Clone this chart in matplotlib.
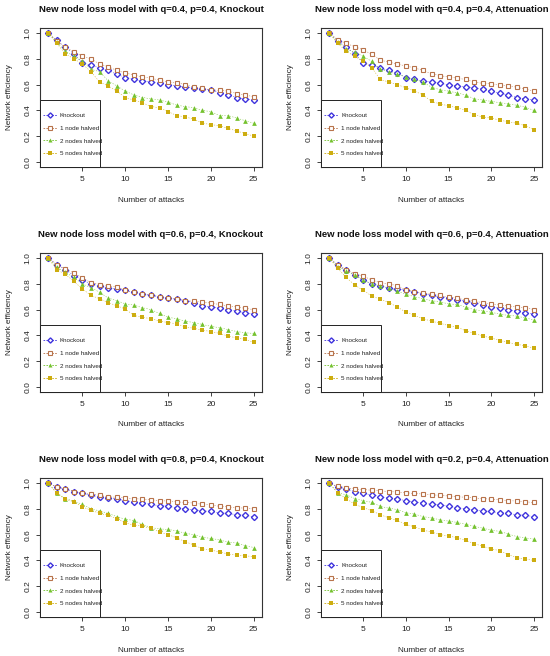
import matplotlib
matplotlib.use("Agg")
import matplotlib.pyplot as plt
from matplotlib.patches import Rectangle
from matplotlib.lines import Line2D

plt.rcParams['font.family'] = ['Liberation Sans', 'DejaVu Sans']

attacks = list(range(1, 26))
series_names = ["Knockout", "1 node halved", "2 nodes halved", "5 nodes halved"]

# Panel 1: q=0.4, p=0.4, Knockout
p1_knockout = [1.0, 0.943, 0.89, 0.84, 0.77, 0.75, 0.73, 0.71, 0.68, 0.655, 0.64, 0.63, 0.62,
               0.61, 0.60, 0.59, 0.58, 0.575, 0.565, 0.56, 0.535, 0.52, 0.50, 0.49, 0.48]
p1_one = [1.0, 0.94, 0.89, 0.855, 0.82, 0.80, 0.76, 0.74, 0.71, 0.69, 0.675, 0.66, 0.65,
          0.635, 0.62, 0.615, 0.60, 0.58, 0.57, 0.56, 0.555, 0.55, 0.53, 0.52, 0.505]
p1_two = [1.0, 0.93, 0.86, 0.82, 0.78, 0.72, 0.70, 0.63, 0.59, 0.55, 0.52, 0.50, 0.49,
          0.48, 0.465, 0.44, 0.43, 0.42, 0.40, 0.39, 0.36, 0.36, 0.34, 0.32, 0.30]
p1_five = [1.0, 0.92, 0.84, 0.80, 0.76, 0.70, 0.62, 0.59, 0.55, 0.50, 0.48, 0.46, 0.43,
           0.42, 0.39, 0.36, 0.35, 0.33, 0.30, 0.29, 0.28, 0.26, 0.24, 0.22, 0.20]

# Panel 2: q=0.4, p=0.4, Attenuation
p2_knockout = [1.0, 0.94, 0.89, 0.84, 0.77, 0.75, 0.73, 0.71, 0.69, 0.655, 0.64, 0.63, 0.62,
               0.61, 0.60, 0.59, 0.585, 0.575, 0.565, 0.55, 0.535, 0.52, 0.50, 0.49, 0.48]
p2_one = [1.0, 0.95, 0.92, 0.895, 0.87, 0.835, 0.79, 0.775, 0.76, 0.745, 0.73, 0.71, 0.685,
          0.67, 0.66, 0.65, 0.64, 0.62, 0.61, 0.605, 0.595, 0.59, 0.58, 0.565, 0.55]
p2_two = [1.0, 0.93, 0.88, 0.85, 0.82, 0.78, 0.72, 0.70, 0.68, 0.66, 0.64, 0.62, 0.58,
          0.56, 0.55, 0.535, 0.52, 0.49, 0.48, 0.47, 0.46, 0.45, 0.44, 0.425, 0.40]
p2_five = [1.0, 0.92, 0.86, 0.82, 0.78, 0.73, 0.64, 0.62, 0.60, 0.575, 0.55, 0.52, 0.47,
           0.45, 0.435, 0.42, 0.40, 0.365, 0.35, 0.34, 0.325, 0.31, 0.30, 0.28, 0.25]

# Panel 3: q=0.6, p=0.4, Knockout
p3_knockout = [1.0, 0.95, 0.91, 0.865, 0.83, 0.80, 0.785, 0.77, 0.76, 0.75, 0.735, 0.72, 0.71,
               0.70, 0.69, 0.68, 0.67, 0.655, 0.63, 0.62, 0.61, 0.60, 0.59, 0.575, 0.565]
p3_one = [1.0, 0.95, 0.915, 0.885, 0.845, 0.81, 0.795, 0.785, 0.775, 0.75, 0.735, 0.725, 0.715,
          0.70, 0.69, 0.685, 0.67, 0.665, 0.66, 0.65, 0.64, 0.63, 0.62, 0.61, 0.60]
p3_two = [1.0, 0.93, 0.89, 0.85, 0.80, 0.77, 0.735, 0.69, 0.67, 0.645, 0.635, 0.615, 0.60,
          0.57, 0.54, 0.53, 0.51, 0.50, 0.485, 0.47, 0.46, 0.445, 0.43, 0.42, 0.415]
p3_five = [1.0, 0.91, 0.875, 0.82, 0.76, 0.71, 0.685, 0.655, 0.63, 0.605, 0.555, 0.54, 0.53,
           0.51, 0.50, 0.49, 0.465, 0.455, 0.44, 0.43, 0.415, 0.395, 0.38, 0.37, 0.345]

# Panel 4: q=0.6, p=0.4, Attenuation
p4_knockout = [1.0, 0.945, 0.905, 0.87, 0.83, 0.80, 0.785, 0.77, 0.76, 0.75, 0.735, 0.725, 0.71,
               0.70, 0.69, 0.675, 0.665, 0.655, 0.635, 0.62, 0.61, 0.60, 0.59, 0.575, 0.565]
p4_one = [1.0, 0.95, 0.91, 0.88, 0.86, 0.83, 0.81, 0.80, 0.785, 0.755, 0.74, 0.73, 0.72,
          0.71, 0.695, 0.69, 0.675, 0.665, 0.655, 0.645, 0.635, 0.63, 0.62, 0.615, 0.60]
p4_two = [1.0, 0.935, 0.90, 0.87, 0.83, 0.80, 0.785, 0.765, 0.745, 0.72, 0.70, 0.685, 0.67,
          0.66, 0.645, 0.64, 0.62, 0.60, 0.59, 0.58, 0.565, 0.555, 0.55, 0.535, 0.52]
p4_five = [1.0, 0.92, 0.85, 0.79, 0.75, 0.705, 0.68, 0.655, 0.62, 0.58, 0.555, 0.53, 0.51,
           0.495, 0.475, 0.465, 0.435, 0.415, 0.395, 0.38, 0.36, 0.345, 0.33, 0.32, 0.30]

# Panel 5: q=0.8, p=0.4, Knockout
p5_knockout = [1.0, 0.97, 0.955, 0.935, 0.92, 0.905, 0.895, 0.885, 0.875, 0.865, 0.855, 0.845, 0.835,
               0.825, 0.82, 0.81, 0.80, 0.795, 0.785, 0.78, 0.77, 0.765, 0.755, 0.75, 0.74]
p5_one = [1.0, 0.97, 0.955, 0.935, 0.925, 0.915, 0.905, 0.895, 0.89, 0.885, 0.88, 0.875, 0.87,
          0.865, 0.86, 0.855, 0.85, 0.845, 0.835, 0.83, 0.82, 0.815, 0.81, 0.805, 0.80]
p5_two = [1.0, 0.925, 0.88, 0.86, 0.835, 0.80, 0.785, 0.765, 0.74, 0.72, 0.71, 0.68, 0.655,
          0.645, 0.64, 0.63, 0.61, 0.60, 0.58, 0.57, 0.56, 0.54, 0.535, 0.515, 0.50]
p5_five = [1.0, 0.92, 0.875, 0.855, 0.815, 0.79, 0.765, 0.75, 0.725, 0.69, 0.675, 0.665, 0.65,
           0.62, 0.60, 0.575, 0.545, 0.52, 0.49, 0.48, 0.465, 0.45, 0.44, 0.435, 0.43]

# Panel 6: q=0.2, p=0.4, Attenuation
p6_knockout = [1.0, 0.97, 0.955, 0.935, 0.92, 0.91, 0.895, 0.885, 0.875, 0.865, 0.855, 0.845, 0.835,
               0.83, 0.82, 0.81, 0.80, 0.795, 0.785, 0.78, 0.77, 0.765, 0.755, 0.75, 0.74]
p6_one = [1.0, 0.975, 0.965, 0.955, 0.95, 0.945, 0.94, 0.935, 0.93, 0.925, 0.92, 0.915, 0.91,
          0.905, 0.90, 0.895, 0.89, 0.885, 0.88, 0.875, 0.87, 0.865, 0.86, 0.855, 0.85]
p6_two = [1.0, 0.925, 0.91, 0.88, 0.865, 0.85, 0.82, 0.805, 0.795, 0.77, 0.76, 0.74, 0.73,
          0.715, 0.705, 0.695, 0.68, 0.665, 0.65, 0.635, 0.625, 0.605, 0.585, 0.575, 0.565]
p6_five = [1.0, 0.925, 0.88, 0.835, 0.81, 0.785, 0.755, 0.73, 0.71, 0.68, 0.66, 0.635, 0.62,
           0.60, 0.59, 0.575, 0.555, 0.53, 0.51, 0.49, 0.475, 0.445, 0.42, 0.41, 0.40]

titles = [
    "New node loss model with q=0.4, p=0.4, Knockout",
    "New node loss model with q=0.4, p=0.4, Attenuation",
    "New node loss model with q=0.6, p=0.4, Knockout",
    "New node loss model with q=0.6, p=0.4, Attenuation",
    "New node loss model with q=0.8, p=0.4, Knockout",
    "New node loss model with q=0.2, p=0.4, Attenuation",
]
panel_data = [
    (p1_knockout, p1_one, p1_two, p1_five),
    (p2_knockout, p2_one, p2_two, p2_five),
    (p3_knockout, p3_one, p3_two, p3_five),
    (p4_knockout, p4_one, p4_two, p4_five),
    (p5_knockout, p5_one, p5_two, p5_five),
    (p6_knockout, p6_one, p6_two, p6_five),
]
x_ticks = [5, 10, 15, 20, 25]
y_ticks = [0.0, 0.2, 0.4, 0.6, 0.8, 1.0]
y_ticklabels = ["0.0", "0.2", "0.4", "0.6", "0.8", "1.0"]

colors = ["#3f33dd", "#b8744c", "#74c22e", "#cdad10"]
styles = [
    dict(marker="D", markersize=3.1, markerfacecolor="white", markeredgewidth=1.0),
    dict(marker="s", markersize=2.9, markerfacecolor="white", markeredgewidth=0.8),
    dict(marker="^", markersize=3.4, markeredgewidth=0.0),
    dict(marker="s", markersize=3.0, markeredgewidth=0.0),
]

W, H = 550, 656
fig = plt.figure(figsize=(W / 100, H / 100), dpi=100)

col_left = [40, 321]
col_w = [222, 221]
row_top = [28, 253, 478]
ax_h = 139

for i in range(6):
    r, c = divmod(i, 2)
    l = col_left[c] / W
    b = 1 - (row_top[r] + ax_h) / H
    ax = fig.add_axes([l, b, col_w[c] / W, ax_h / H])
    for j in range(4):
        st = dict(styles[j])
        if "markerfacecolor" not in st:
            st["markerfacecolor"] = colors[j]
        ax.plot(attacks, panel_data[i][j], color=colors[j], linestyle=(0, (2.5, 3)),
                linewidth=0.35, alpha=1.0, markeredgecolor=colors[j],
                zorder=3 + j * 0.01, **st)
    ax.set_xlim(0.04, 25.96)
    ax.set_ylim(-0.04, 1.04)
    ax.set_xticks(x_ticks)
    ax.set_xticklabels([str(t) for t in x_ticks])
    ax.set_yticks(y_ticks)
    ax.set_yticklabels(y_ticklabels, rotation=90, va="center")
    ax.tick_params(axis="both", direction="out", length=3.2, width=0.6,
                   labelsize=6.0, colors="#222222")
    ax.tick_params(axis="x", pad=3.5)
    ax.tick_params(axis="y", pad=3.0)
    for sp in ax.spines.values():
        sp.set_linewidth(0.8)
        sp.set_color("#333333")
    ax.set_xlabel("Number of attacks", fontsize=5.9, color="#222222")
    ax.set_ylabel("Network efficiency", fontsize=5.9, color="#222222")
    ax.xaxis.set_label_coords(0.5, -33 / ax_h)
    ax.xaxis.label.set_verticalalignment("center")
    ax.yaxis.set_label_coords(-31 / col_w[c], 0.5)
    ax.yaxis.label.set_verticalalignment("center")
    ax.text(0.5, 1 + 18 / ax_h, titles[i], transform=ax.transAxes, ha="center",
            va="center", fontsize=6.8, fontweight="bold", color="#111111")

    # legend box
    ax.add_patch(Rectangle((0, 0), 60 / col_w[c], 67 / ax_h, transform=ax.transAxes,
                           facecolor="white", edgecolor="#222222", linewidth=0.7,
                           zorder=6, clip_on=False))
    handles = []
    for j in range(4):
        st = dict(styles[j])
        if "markerfacecolor" not in st:
            st["markerfacecolor"] = colors[j]
        st["markersize"] = st["markersize"] * 0.85
        handles.append(Line2D([], [], color=colors[j], linestyle=(0, (2, 1.5)),
                              linewidth=0.6, markeredgecolor=colors[j], **st))
    leg = ax.legend(handles, series_names, loc="lower left", bbox_to_anchor=(0.0, 0.056),
                    frameon=False, fontsize=4.5, handlelength=2.2, handletextpad=0.5,
                    labelspacing=1.15, borderpad=0.5, borderaxespad=0.0)
    leg.set_zorder(7)
    for t in leg.get_texts():
        t.set_color("#222222")

fig.savefig("out.png", dpi=100)
